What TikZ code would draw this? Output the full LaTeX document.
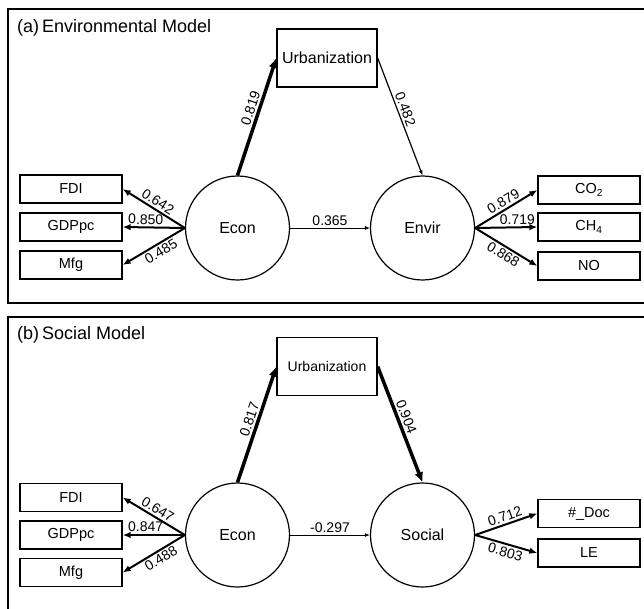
\documentclass[tikz,border=0pt]{standalone}
\usepackage{fontspec}
\setmainfont{Liberation Sans}
\usetikzlibrary{arrows.meta}
\usetikzlibrary{shapes}

\tikzset{
  varbox/.style={draw,line width=1.3pt,minimum width=102pt,minimum height=28pt,inner sep=0pt,font=\fontsize{14.5}{16}\selectfont},
  latent/.style={draw,circle,line width=1.2pt,minimum size=104pt,inner sep=0pt,font=\fontsize{16}{18}\selectfont},
  urbbox/.style={draw,line width=1.3pt,minimum width=100pt,minimum height=58pt,inner sep=0pt},
  load/.style={line width=2pt,-{Latex[length=8pt,width=6.5pt]}},
  thinpath/.style={line width=0.9pt,-{Latex[length=5pt,width=4pt]}},
  thickpath/.style={line width=3.5pt,-{Latex[length=10pt,width=9pt]}},
  coef/.style={font=\fontsize{14}{16}\selectfont,sloped,inner sep=2pt},
  panel/.style={line width=1.6pt},
  paneltitle/.style={anchor=west,font=\fontsize{18}{20}\selectfont,inner sep=0pt}
}

\begin{document}
\begin{tikzpicture}[x=1pt,y=-1pt]%SEM panels
\useasboundingbox (0,0) rectangle (644,609);
\clip (0,0) rectangle (644,609);
% (a) environmental model
\draw[panel] (8,9) rectangle (660,303);
\node[paneltitle] (titleA) at (17,28) {(a)\,Environmental Model};
\node[urbbox,font=\fontsize{16}{18}\selectfont] (urbA) at (327,58) {Urbanization};
\node[latent] (econA) at (237.5,228) {Econ};
\node[latent] (envA) at (422.5,228) {Envir};
\foreach \nm/\txt/\y in {fdiA/FDI/189,gdpA/GDPpc/227,mfgA/Mfg/265}
  \node[varbox] (\nm) at (71,\y) {\txt};
\foreach \nm/\txt/\y in {coA/{CO\textsubscript{2}}/190,chA/{CH\textsubscript{4}}/227,noA/NO/266}
  \node[varbox] (\nm) at (589,\y) {\txt};
\foreach \to/\val/\side/\p in {fdiA/0.642/above/0.5,gdpA/0.850/above/0.63,mfgA/0.485/below/0.45}
  \draw[load] (econA.west) -- (\to.east) node[coef,\side,pos=\p] {\val};
\foreach \to/\val/\side/\p in {coA/0.879/above/0.52,chA/0.719/above/0.68,noA/0.868/below/0.52}
  \draw[load] (envA.east) -- (\to.west) node[coef,\side,pos=\p] {\val};
\draw[thickpath] (econA.north) -- (urbA.west) node[coef,above,pos=0.55] {0.819};
\draw[thinpath,line width=1.2pt] (urbA.east) -- (envA.north) node[coef,above,pos=0.46] {0.482};
\draw[thinpath] (econA.east) -- (envA.west) node[coef,above,pos=0.5] {0.365};
% (b) social model
\draw[panel] (8,317) rectangle (660,625);
\node[paneltitle] (titleB) at (17,335) {(b)\,Social Model};
\node[urbbox,font=\fontsize{14}{16}\selectfont] (urbB) at (327,366.5) {Urbanization};
\node[latent] (econB) at (237.5,535) {Econ};
\node[latent] (socB) at (422.5,535) {Social};
\foreach \nm/\txt/\y in {fdiB/FDI/497.5,gdpB/GDPpc/535,mfgB/Mfg/572.5}
  \node[varbox] (\nm) at (71,\y) {\txt};
\foreach \nm/\txt/\y in {docB/\#\_Doc/513.5,leB/LE/553}
  \node[varbox] (\nm) at (589,\y) {\txt};
\foreach \to/\val/\side/\p in {fdiB/0.647/above/0.5,gdpB/0.847/above/0.63,mfgB/0.488/below/0.45}
  \draw[load] (econB.west) -- (\to.east) node[coef,\side,pos=\p] {\val};
\foreach \to/\val/\side/\p in {docB/0.712/above/0.52,leB/0.803/below/0.52}
  \draw[load] (socB.east) -- (\to.west) node[coef,\side,pos=\p] {\val};
\draw[thickpath] (econB.north) -- (urbB.west) node[coef,above,pos=0.52] {0.817};
\draw[thickpath] (urbB.east) -- (socB.north) node[coef,above,pos=0.46] {0.904};
\draw[thinpath] (econB.east) -- (socB.west) node[coef,above,pos=0.5] {-0.297};
\end{tikzpicture}
\end{document}
